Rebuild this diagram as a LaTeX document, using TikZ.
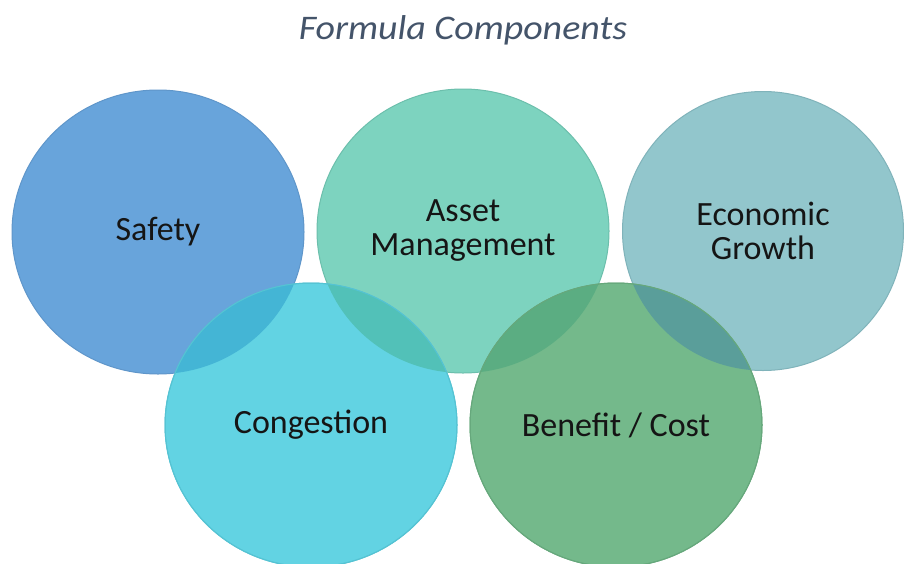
\documentclass[tikz,border=0pt]{standalone}
\usepackage{fontspec}
\usetikzlibrary{shapes.geometric}
\setmainfont{Carlito}
\definecolor{titlecol}{HTML}{44546A}
\definecolor{safetyc}{HTML}{68A4DB}
\definecolor{safetyrim}{HTML}{5F96CA}
\definecolor{assetc}{HTML}{7DD3BF}
\definecolor{assetrim}{HTML}{6CBFAC}
\definecolor{econc}{HTML}{92C6CC}
\definecolor{econrim}{HTML}{80B3BA}
\definecolor{congc}{HTML}{62D3E3}
\definecolor{congrim}{HTML}{55C3D3}
\definecolor{benc}{HTML}{74B98B}
\definecolor{benrim}{HTML}{66A87C}
\definecolor{ovsc}{HTML}{44B5D5}
\definecolor{ovac}{HTML}{52C1B8}
\definecolor{ovab}{HTML}{5BAD82}
\definecolor{oveb}{HTML}{5A9E9A}
\definecolor{txt}{HTML}{151515}
\tikzset{
  bubble/.style={ellipse, minimum width=292pt, minimum height=284pt, inner sep=0pt, line width=1pt,
    text=txt, font=\fontsize{34}{34}\selectfont, align=center},
}
\begin{document}
\begin{tikzpicture}[x=1pt,y=-1pt]
\useasboundingbox (0,0) rectangle (904,563);
\fill[white] (0,0) rectangle (904,563);
\node[font=\fontsize{34.5}{36}\selectfont\itshape, text=titlecol, xscale=1.1] (title) at (463,30) {Formula Components};
% upper row
\node[bubble, fill=safetyc, draw=safetyrim] (safety) at (158,232) {Safety};
\node[bubble, fill=assetc, draw=assetrim] (asset) at (463,231) {Asset\\Management};
\node[bubble, fill=econc, draw=econrim, minimum width=281pt, minimum height=279pt] (econ) at (763,231) {Economic\\Growth};
% lower row
\node[bubble, fill=congc, draw=congrim] (cong) at (311,425) {Congestion};
\node[bubble, fill=benc, draw=benrim] (ben) at (616,425) {Benefit / Cost};
% overlaps
\begin{scope}
  \clip (safety.center) ellipse [x radius=146, y radius=142];
  \fill[ovsc] (cong.center) ellipse [x radius=146, y radius=142];
\end{scope}
\begin{scope}
  \clip (asset.center) ellipse [x radius=146, y radius=142];
  \fill[ovac] (cong.center) ellipse [x radius=146, y radius=142];
\end{scope}
\begin{scope}
  \clip (asset.center) ellipse [x radius=146, y radius=142];
  \fill[ovab] (ben.center) ellipse [x radius=146, y radius=142];
\end{scope}
\begin{scope}
  \clip (econ.center) ellipse [x radius=140.5, y radius=139.5];
  \fill[oveb] (ben.center) ellipse [x radius=146, y radius=142];
\end{scope}
% rims of the lower circles over the overlaps
\draw[draw=congrim, line width=1pt] (cong.center) ellipse [x radius=146, y radius=142];
\draw[draw=benrim, line width=1pt] (ben.center) ellipse [x radius=146, y radius=142];
\end{tikzpicture}
\end{document}
